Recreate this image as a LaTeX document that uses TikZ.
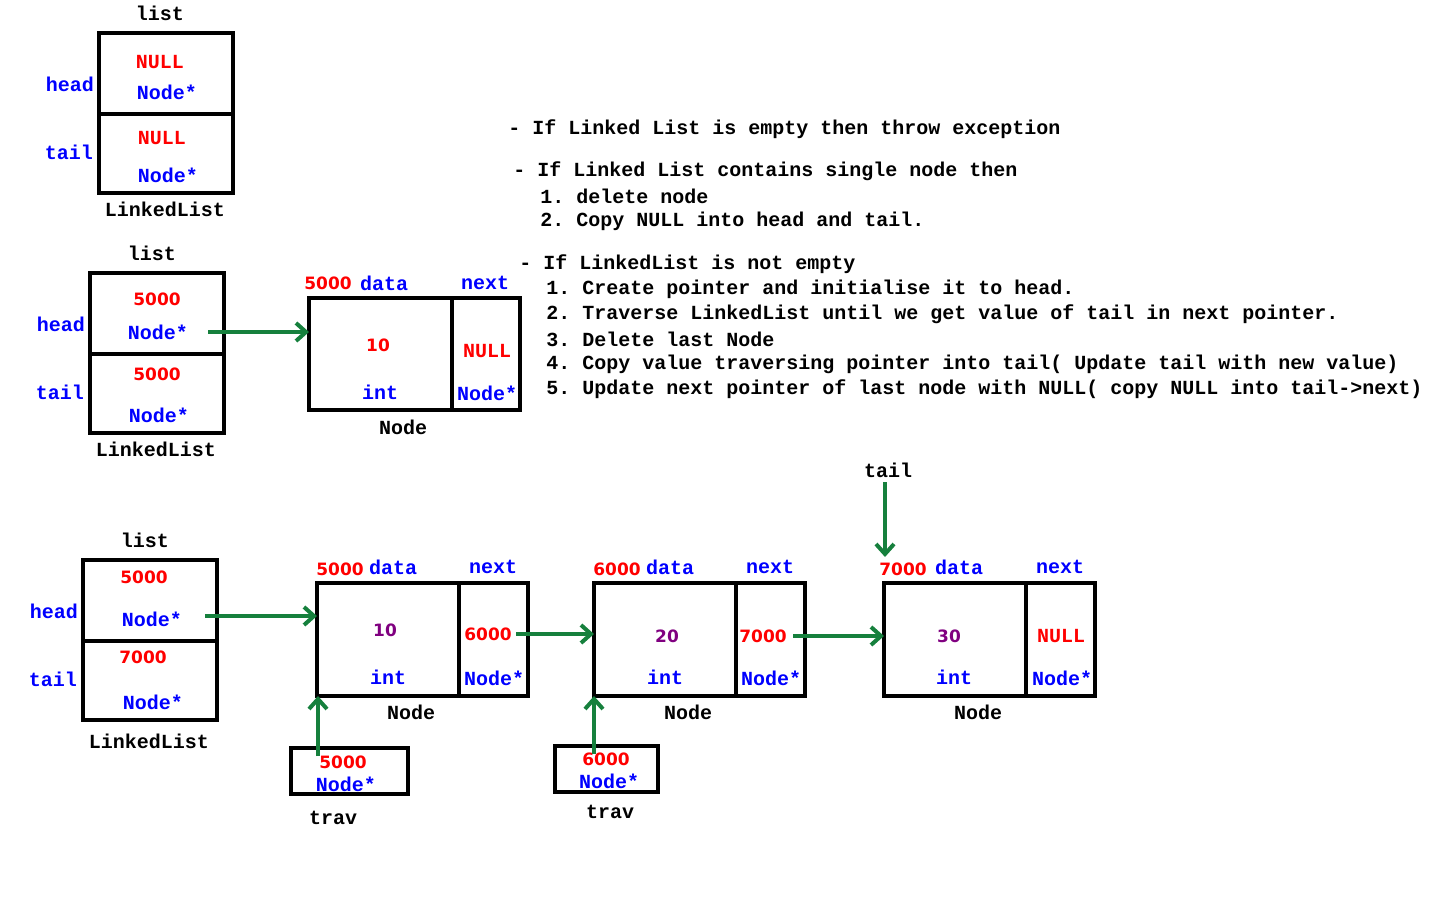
\documentclass[tikz,border=0pt]{standalone}
\usepackage{fontspec}
\setmainfont{Liberation Mono}
\newfontfamily\numfont{DejaVu Sans}
\usetikzlibrary{arrows.meta}
\frenchspacing
\definecolor{ptrgreen}{RGB}{22,128,61}
\definecolor{valpurple}{RGB}{128,0,128}
\tikzset{cell:style/.style={draw,line width=2pt,outer sep=0pt,inner sep=0pt,anchor=north west}}
\tikzset{edge:style/.style={draw,ptrgreen,line width=2pt,-{Straight Barb[length=5pt,width=9pt]}}}
\tikzset{txt:style/.style={inner sep=0pt,font=\bfseries\fontsize{10}{12}\selectfont}}
\tikzset{num:style/.style={inner sep=0pt,red,font=\numfont\bfseries\fontsize{8.5}{10}\selectfont}}
\tikzset{instr:style/.style={txt:style,anchor=west}}
\def\px{0.5pt}
\def\dataW{142*\px}
\def\nextW{69*\px}
\def\cellH{113*\px}

\begin{document}
\begin{tikzpicture}[x=0.5pt,y=-0.5pt]
	\useasboundingbox (0,0) rectangle (1440,900);

	% empty list
	\path (99,33) node[cell:style,minimum width=134*\px,minimum height=81*\px] (hd1) {};
	\path (99,114) node[cell:style,minimum width=134*\px,minimum height=79*\px] (tl1) {};
	\path (160,13) node[txt:style] (ls1) {list};
	\path (160,62) node[txt:style,red] (hv1) {NULL};
	\path (167,92) node[txt:style,blue] (ht1) {Node*};
	\path (162,138) node[txt:style,red] (tv1) {NULL};
	\path (168,175) node[txt:style,blue] (tt1) {Node*};
	\path (70,84) node[txt:style,blue] (hn1) {head};
	\path (69,152) node[txt:style,blue] (tn1) {tail};
	\path (165,209) node[txt:style] (ll1) {LinkedList};

	% list with a single node
	\path (90,273) node[cell:style,minimum width=134*\px,minimum height=81*\px] (hd2) {};
	\path (90,354) node[cell:style,minimum width=134*\px,minimum height=79*\px] (tl2) {};
	\path (152,253) node[txt:style] (ls2) {list};
	\path (157,299) node[num:style] (hv2) {5000};
	\path (158,332) node[txt:style,blue] (ht2) {Node*};
	\path (157,374) node[num:style] (tv2) {5000};
	\path (159,415) node[txt:style,blue] (tt2) {Node*};
	\path (61,324) node[txt:style,blue] (hn2) {head};
	\path (60,392) node[txt:style,blue] (tn2) {tail};
	\path (156,449) node[txt:style] (ll2) {LinkedList};

	\path (309,298) node[cell:style,minimum width=143*\px,minimum height=112*\px] (dt2) {};
	\path (452,298) node[cell:style,minimum width=68*\px,minimum height=112*\px] (nx2) {};
	\path (328,283) node[num:style] (ad2) {5000};
	\path (384,283) node[txt:style,blue] (dl2) {data};
	\path (485,283) node[txt:style,blue] (nl2) {next};
	\path (378,345) node[num:style] (dv2) {10};
	\path (380,392) node[txt:style,blue] (di2) {int};
	\path (487,351) node[txt:style,red] (nv2) {NULL};
	\path (487,393) node[txt:style,blue] (np2) {Node*};
	\path (403,427) node[txt:style] (nd2) {Node};

	\path (208,332) coordinate (ch2);
	\path[edge:style] (ch2) -- (ch2 -| dt2.west);

	% steps
	\path (508,129) node[instr:style] (s1) {- If Linked List is empty then throw exception};
	\path (513,171) node[instr:style] (s2) {- If Linked List contains single node then};
	\path (540,196) node[instr:style] (s21) {1. delete node};
	\path (540,221) node[instr:style] (s22) {2. Copy NULL into head and tail.};
	\path (519,264) node[instr:style] (s3) {- If LinkedList is not empty};
	\path (546,289) node[instr:style] (s31) {1. Create pointer and initialise it to head.};
	\path (546,314) node[instr:style] (s32) {2. Traverse LinkedList until we get value of tail in next pointer.};
	\path (546,339) node[instr:style] (s33) {3. Delete last Node};
	\path (546,364) node[instr:style] (s34) {4. Copy value traversing pointer into tail( Update tail with new value)};
	\path (546,389) node[instr:style] (s35) {5. Update next pointer of last node with NULL( copy NULL into tail->next)};

	% list with three nodes
	\path (83,560) node[cell:style,minimum width=134*\px,minimum height=81*\px] (hd3) {};
	\path (83,641) node[cell:style,minimum width=134*\px,minimum height=79*\px] (tl3) {};
	\path (145,540) node[txt:style] (ls3) {list};
	\path (144,577) node[num:style] (hv3) {5000};
	\path (152,619) node[txt:style,blue] (ht3) {Node*};
	\path (143,657) node[num:style] (tv3) {7000};
	\path (153,702) node[txt:style,blue] (tt3) {Node*};
	\path (54,611) node[txt:style,blue] (hn3) {head};
	\path (53,679) node[txt:style,blue] (tn3) {tail};
	\path (149,741) node[txt:style] (ll3) {LinkedList};

	\path (317,583) node[cell:style,minimum width=\dataW,minimum height=\cellH] (dtA) {};
	\path (459,583) node[cell:style,minimum width=\nextW,minimum height=\cellH] (nxA) {};
	\path (340,569) node[num:style] (adA) {5000};
	\path (393,567) node[txt:style,blue] (dlA) {data};
	\path (493,567) node[txt:style,blue] (nlA) {next};
	\path (385,630) node[num:style,valpurple] (dvA) {10};
	\path (388,677) node[txt:style,blue] (diA) {int};
	\path (488,634) node[num:style] (nvA) {6000};
	\path (494,678) node[txt:style,blue] (npA) {Node*};
	\path (411,712) node[txt:style] (ndA) {Node};

	\path (594,583) node[cell:style,minimum width=\dataW,minimum height=\cellH] (dtB) {};
	\path (736,583) node[cell:style,minimum width=\nextW,minimum height=\cellH] (nxB) {};
	\path (617,569) node[num:style] (adB) {6000};
	\path (670,567) node[txt:style,blue] (dlB) {data};
	\path (770,567) node[txt:style,blue] (nlB) {next};
	\path (667,636) node[num:style,valpurple] (dvB) {20};
	\path (665,677) node[txt:style,blue] (diB) {int};
	\path (763,636) node[num:style] (nvB) {7000};
	\path (771,678) node[txt:style,blue] (npB) {Node*};
	\path (688,712) node[txt:style] (ndB) {Node};

	\path (884,583) node[cell:style,minimum width=\dataW,minimum height=\cellH] (dtC) {};
	\path (1026,583) node[cell:style,minimum width=\nextW,minimum height=\cellH] (nxC) {};
	\path (903,569) node[num:style] (adC) {7000};
	\path (959,567) node[txt:style,blue] (dlC) {data};
	\path (1060,567) node[txt:style,blue] (nlC) {next};
	\path (949,636) node[num:style,valpurple] (dvC) {30};
	\path (954,677) node[txt:style,blue] (diC) {int};
	\path (1061,636) node[txt:style,red] (nvC) {NULL};
	\path (1062,678) node[txt:style,blue] (npC) {Node*};
	\path (978,712) node[txt:style] (ndC) {Node};

	\path (888,470) node[txt:style] (tlp) {tail};

	% trav pointers
	\path (291,748) node[cell:style,minimum width=117*\px,minimum height=46*\px] (tr1) {};
	\path (343,762) node[num:style] (trv1) {5000};
	\path (346,784) node[txt:style,blue] (trt1) {Node*};
	\path (333,818) node[txt:style] (trn1) {trav};
	\path (555,746) node[cell:style,minimum width=103*\px,minimum height=46*\px] (tr2) {};
	\path (606,759) node[num:style] (trv2) {6000};
	\path (609,781) node[txt:style,blue] (trt2) {Node*};
	\path (610,812) node[txt:style] (trn2) {trav};

	\path (205,616) coordinate (ch3);
	\path (516,634) coordinate (cA);
	\path (793,636) coordinate (cB);
	\path (885,482) coordinate (ct0);
	\path (885,557) coordinate (ct1);
	\path (318,756) coordinate (cr1);
	\path (594,754) coordinate (cr2);

	\path[edge:style] (ch3) -- (ch3 -| dtA.west);
	\path[edge:style] (cA) -- (cA -| dtB.west);
	\path[edge:style] (cB) -- (cB -| dtC.west);
	\path[edge:style] (ct0) -- (ct1);
	\path[edge:style] (cr1) -- (cr1 |- dtA.south);
	\path[edge:style] (cr2) -- (cr2 |- dtB.south);

\end{tikzpicture}
\end{document}
